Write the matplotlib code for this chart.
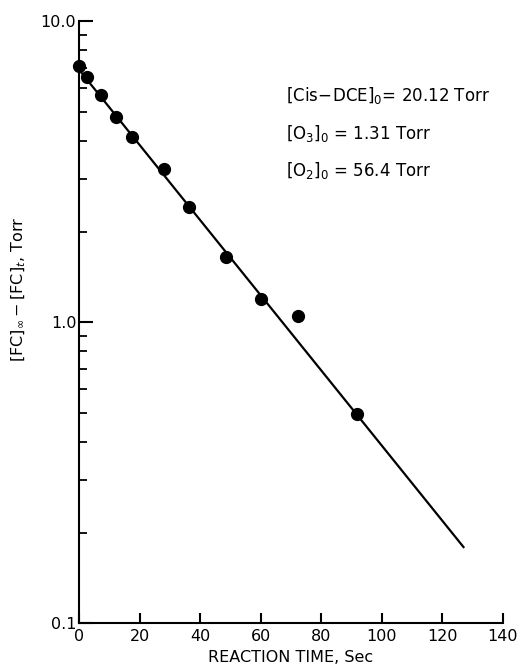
import numpy as np
import matplotlib
matplotlib.use("Agg")
import matplotlib.pyplot as plt
from matplotlib.ticker import LogLocator, NullFormatter, FixedLocator, FixedFormatter

# data
t_sec = [0, 2.6, 7.2, 12.1, 17.5, 28.1, 36.3, 48.5, 60.2, 72.4, 91.9]
fc_diff = [7.08, 6.51, 5.70, 4.81, 4.11, 3.24, 2.42, 1.65, 1.19, 1.047, 0.496]

# fitted first-order decay line (end points)
fit_t = [0, 127]
fit_y = [6.9, 0.179]

x_ticks = [0, 20, 40, 60, 80, 100, 120, 140]
y_ticks = [0.1, 1.0, 10.0]
y_tick_labels = ["0.1", "1.0", "10.0"]

conditions = [
    r"$\left[\mathrm{Cis\!-\!DCE}\right]_{\mathrm{0}}$= 20.12 Torr",
    r"$\left[\mathrm{O_3}\right]_{\mathrm{0}}$ = 1.31 Torr",
    r"$\left[\mathrm{O_2}\right]_{\mathrm{0}}$ = 56.4 Torr",
]

plt.rcParams["font.family"] = "DejaVu Sans"
plt.rcParams["mathtext.fontset"] = "dejavusans"

fig = plt.figure(figsize=(5.2, 6.65), dpi=100)
ax = fig.add_axes([0.152, 0.063, 0.815, 0.905])

ax.plot(fit_t, fit_y, color="black", lw=1.6)
ax.plot(t_sec, fc_diff, "o", color="black", ms=8.5, clip_on=False, zorder=3)

ax.set_yscale("log")
ax.set_xlim(0, 140)
ax.set_ylim(0.1, 10.0)

ax.spines["top"].set_visible(False)
ax.spines["right"].set_visible(False)
for s in ["left", "bottom"]:
    ax.spines[s].set_linewidth(1.5)

ax.xaxis.set_major_locator(FixedLocator(x_ticks))
ax.set_xticklabels([str(v) for v in x_ticks])
ax.yaxis.set_major_locator(FixedLocator(y_ticks))
ax.yaxis.set_major_formatter(FixedFormatter(y_tick_labels))
ax.yaxis.set_minor_locator(LogLocator(base=10, subs=np.arange(2, 10)))
ax.yaxis.set_minor_formatter(NullFormatter())

ax.tick_params(axis="x", direction="in", length=7, width=1.5, labelsize=11.5, pad=4)
ax.tick_params(axis="y", which="major", direction="in", length=10, width=1.5, labelsize=11.5, pad=2)
ax.tick_params(axis="y", which="minor", direction="in", length=6, width=1.3)

ax.set_xlabel("REACTION TIME, Sec", fontsize=11.5)
ax.xaxis.set_label_coords(0.5, -0.045)
ax.set_ylabel(r"$\left[\mathrm{FC}\right]_{\infty}-\left[\mathrm{FC}\right]_{t}$, Torr", fontsize=11.5)
ax.yaxis.set_label_coords(-0.12, 0.554)

for i, line in enumerate(conditions):
    fig.text(0.55, 0.856 - i * 0.056, line, fontsize=12, va="center", ha="left")

fig.savefig("out.png", dpi=100)
